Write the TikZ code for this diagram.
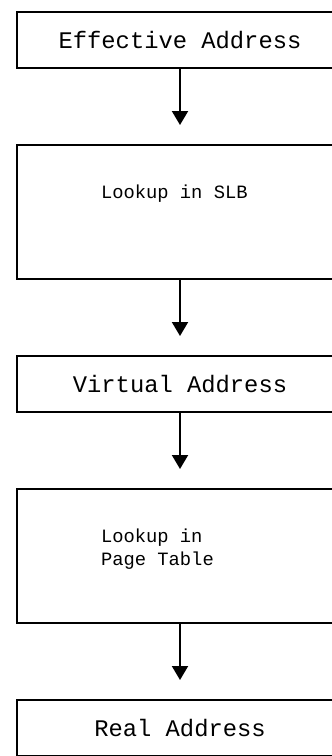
\documentclass[tikz,border=0pt]{standalone}
\usepackage{fontspec}
\setmonofont{Liberation Mono}
\usetikzlibrary{arrows.meta,positioning}
\tikzset{box/.style={draw,line width=2pt,outer sep=0pt,minimum width=326pt},
  addrbox/.style={box,minimum height=56pt,inner sep=0pt,
  font=\ttfamily\fontsize{23.8pt}{28pt}\selectfont},
  lookbox/.style={box,minimum height=134pt,inner xsep=84pt,inner ysep=0pt,
  text height=53pt,text depth=81pt,font=\ttfamily\fontsize{18.8pt}{23.5pt}\selectfont},
  flow/.style={-{Triangle[width=16pt,length=14pt]},line width=2pt,shorten >=20pt}}

\begin{document}
\begin{tikzpicture}[node distance=77pt]
\useasboundingbox (0,0) rectangle (332pt,-756pt);
\clip (0,0) rectangle (332pt,-756pt);
\node[addrbox] (eff) at (180pt,-40pt) {Effective Address};
\node[lookbox,below=of eff] (slb) {\parbox[t]{158pt}{\raggedright Lookup in SLB}};
\node[addrbox,below=of slb] (virt) {Virtual Address};
\node[lookbox,below=of virt] (ptab) {\parbox[t]{158pt}{\raggedright Lookup in\\Page Table}};
\node[addrbox,below=of ptab] (real) {Real Address};
\draw[flow] (eff)--(slb);
\draw[flow] (slb)--(virt);
\draw[flow] (virt)--(ptab);
\draw[flow] (ptab)--(real);
\end{tikzpicture}
\end{document}
